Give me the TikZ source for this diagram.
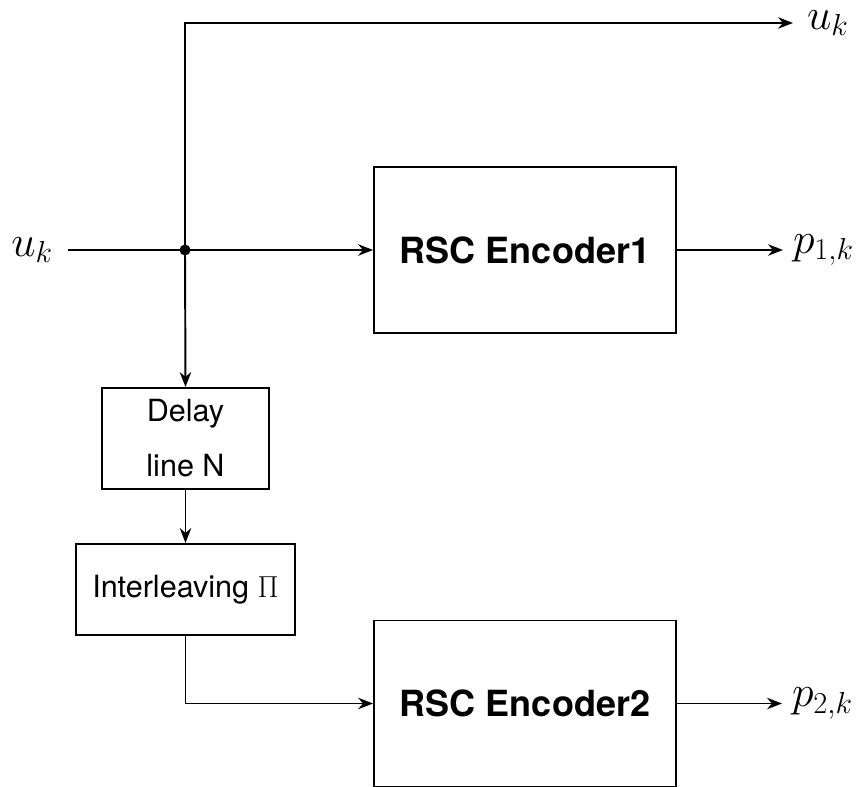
\documentclass[tikz,border=0pt]{standalone}
\usepackage{fontspec}
\setmainfont{TeX Gyre Heros}
\usepackage{tikz}
\usetikzlibrary{arrows.meta,positioning,calc}

\begin{document}
\begin{tikzpicture}[x=0.02cm,y=0.02cm,line width=1.1pt,>={Stealth[length=8.5pt,width=6.5pt]},
  block/.style={draw,inner sep=0pt,align=center},
  enc/.style={block,minimum width=6.04cm,minimum height=3.32cm,font=\fontsize{20.5}{24}\selectfont\bfseries},
  lbl/.style={inner sep=0pt,font=\fontsize{25.6}{30}\selectfont}]
  \useasboundingbox (0,0) rectangle (863,-787);
  % encoders
  \node[enc] (enc1) at (525,-250) {RSC Encoder1};
  \node[enc] (enc2) at (525,-703.5) {RSC Encoder2};
  % delay and interleaver
  \node[block,minimum width=3.34cm,minimum height=2.02cm,font=\fontsize{17.4}{31.3}\selectfont] (delay) at (185.5,-438.5) {Delay\\line N};
  \node[block,minimum width=4.38cm,minimum height=1.82cm,font=\fontsize{17.4}{21}\selectfont] (intl) at (185.5,-589.5) {Interleaving $\Pi$};
  \coordinate (split) at (185,-250);
  % labels
  \node[lbl,anchor=east,outer sep=0.3cm] (uin) at (68,-250) {$u_k$};
  \node[lbl,anchor=west,outer sep=0.28cm] (uout) at (793,-23) {$u_k$};
  \node[lbl,anchor=west,outer sep=0.2cm] (pa) at (783,-250) {$p_{1,k}$};
  \node[lbl,anchor=west,outer sep=0.2cm] (pb) at (782,-703.5) {$p_{2,k}$};
  % connectors
  \draw (uin.east) -- (split);
  \draw[->] (split) -- (enc1.west);
  \draw[->] (split) |- (uout.west);
  \draw[->] (split) -- (delay.north);
  \draw[->] (delay.south) -- (intl.north);
  \draw[->] (intl.south) |- (enc2.west);
  \draw[->] (enc1.east) -- (pa.west);
  \draw[->] (enc2.east) -- (pb.west);
  \fill (split) circle[radius=0.11cm];
\end{tikzpicture}
\end{document}
